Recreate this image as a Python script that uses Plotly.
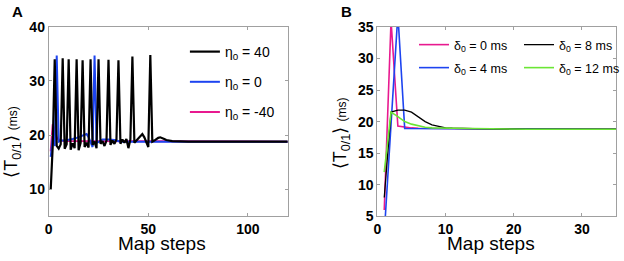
import plotly.graph_objects as go

W, H = 624, 261
def px(x): return x / W
def py(y): return 1 - y / H

# ---------------- Panel A data ----------------
a_black_x = [1, 2, 3, 4, 5, 6, 7, 8, 9, 10, 11, 12, 13, 14, 15, 16, 17, 18, 19, 20,
             21, 22, 23, 24, 25, 26, 27, 28, 29, 30, 31, 32, 33, 34, 35, 36, 37, 38, 39, 40,
             41, 42, 43, 44, 45, 46, 47, 48, 49, 50, 51, 52, 53, 54, 55, 56, 57, 58, 59, 60,
             61, 62, 66, 70, 120]
a_black_y = [10, 18, 34, 18, 17.5, 18.3, 34.2, 17.5, 18.3, 34, 17.3, 18.5, 17.6, 34, 17.2, 18.6, 33.8, 17.8, 18.6, 17.7,
             34, 18.2, 18.8, 17.6, 34, 18.4, 18.9, 18.0, 19.0, 33.9, 18.2, 19.0, 18.4, 19.2, 33.8, 18.4, 19.2, 18.6, 19.3, 17.6,
             19.2, 34.5, 18.6, 19.0, 19.5, 20.0, 20.2, 19.6, 18.5, 17.8, 34.8, 18.8, 19.0, 19.3, 19.5, 19.6, 19.5, 19.3, 19.1, 19.0,
             18.95, 18.9, 18.85, 18.8, 18.8]

a_blue_x = [1, 2, 3, 4, 5, 6, 8, 10, 12, 14, 16, 18, 19, 20, 21, 22, 23, 24, 25, 27, 30, 33, 36, 120]
a_blue_y = [16, 19.5, 18, 34.7, 18.8, 19.0, 19.0, 19.1, 19.3, 19.5, 19.8, 20.1, 20.2, 19.6, 18.5, 17.8, 34.7, 18.6, 18.7, 19.2, 19.2, 19.1, 18.8, 18.8]

a_mag_x = [1, 2, 3, 4, 5, 6, 8, 10, 15, 20, 120]
a_mag_y = [17, 22, 21, 19.5, 19.2, 19.0, 18.9, 18.9, 18.85, 18.8, 18.8]

a_names = ["η<sub>0</sub> = 40", "η<sub>0</sub> = 0", "η<sub>0</sub> = -40"]
a_xticks = [0, 50, 100]
a_yticks = [10, 20, 30, 40]

# ---------------- Panel B data ----------------
b_mag_x = [1, 2, 3, 4, 5, 6, 8, 10, 22, 35]
b_mag_y = [6, 36, 19.3, 19.1, 19.0, 18.95, 18.9, 18.9, 18.8, 18.8]

b_blue_x = [1, 2, 3, 4, 5, 8, 10, 22, 35]
b_blue_y = [2.2, 19.6, 37, 18.9, 18.9, 18.9, 18.9, 18.8, 18.8]

b_black_x = [1, 2, 3, 4, 5, 6, 7, 8, 9, 10, 11, 12, 14, 22, 35]
b_black_y = [8, 21.5, 21.8, 21.8, 21.5, 20.8, 20.0, 19.5, 19.2, 19.0, 18.95, 18.9, 18.9, 18.8, 18.8]

b_green_x = [1, 2, 3, 4, 5, 6, 7, 8, 10, 14, 22, 35]
b_green_y = [12, 21.5, 20.8, 20.0, 19.6, 19.3, 19.1, 19.0, 18.95, 18.9, 18.8, 18.8]

b_names = ["δ<sub>0</sub> = 0 ms", "δ<sub>0</sub> = 4 ms", "δ<sub>0</sub> = 8 ms", "δ<sub>0</sub> = 12 ms"]
b_xticks = [0, 10, 20, 30]
b_yticks = [5, 10, 15, 20, 25, 30, 35]

MAG = "#e8198f"
BLUE = "#1d44f0"
GREEN = "#6be635"
BLACK = "#000000"
FONT = "Liberation Sans, Arial, Helvetica, sans-serif"

fig = go.Figure()

# Panel A traces (draw order: magenta, blue, black on top)
fig.add_trace(go.Scatter(x=a_mag_x, y=a_mag_y, mode="lines", name=a_names[2],
                         line=dict(color=MAG, width=2), xaxis="x", yaxis="y",
                         legend="legend3", legendgroup="a3", legendrank=3))
fig.add_trace(go.Scatter(x=a_blue_x, y=a_blue_y, mode="lines", name=a_names[1],
                         line=dict(color=BLUE, width=2), xaxis="x", yaxis="y",
                         legend="legend3", legendgroup="a2", legendrank=2))
fig.add_trace(go.Scatter(x=a_black_x, y=a_black_y, mode="lines", name=a_names[0],
                         line=dict(color=BLACK, width=2.2), xaxis="x", yaxis="y",
                         legend="legend3", legendgroup="a1", legendrank=1))

# Panel B traces
fig.add_trace(go.Scatter(x=b_mag_x, y=b_mag_y, mode="lines", name=b_names[0],
                         line=dict(color=MAG, width=1.6), xaxis="x2", yaxis="y2",
                         legend="legend", legendrank=1))
fig.add_trace(go.Scatter(x=b_blue_x, y=b_blue_y, mode="lines", name=b_names[1],
                         line=dict(color=BLUE, width=1.6), xaxis="x2", yaxis="y2",
                         legend="legend2", legendrank=1))
fig.add_trace(go.Scatter(x=b_black_x, y=b_black_y, mode="lines", name=b_names[2],
                         line=dict(color=BLACK, width=1.3), xaxis="x2", yaxis="y2",
                         legend="legend", legendrank=2))
fig.add_trace(go.Scatter(x=b_green_x, y=b_green_y, mode="lines", name=b_names[3],
                         line=dict(color=GREEN, width=1.6), xaxis="x2", yaxis="y2",
                         legend="legend2", legendrank=2))

axcommon = dict(showline=True, linecolor="#a0a0a0", linewidth=1, mirror="ticks",
                ticks="inside", ticklen=3, tickcolor="#a0a0a0", showgrid=False,
                zeroline=False, automargin=False,
                tickfont=dict(family=FONT, size=14, color="black", weight="bold"))

ydom = [py(216.4), py(26.8)]
fig.update_layout(
    width=W, height=H,
    margin=dict(l=0, r=0, t=0, b=0),
    paper_bgcolor="white", plot_bgcolor="white",
    font=dict(family=FONT, color="black"),
    template="none",
    xaxis=dict(domain=[px(49.3), px(291)], range=[0, 120], tickvals=a_xticks,
               anchor="y", **axcommon),
    yaxis=dict(domain=ydom, range=[5, 40], tickvals=a_yticks, anchor="x", **axcommon),
    xaxis2=dict(domain=[px(381.7), px(623)], range=[0, 35], tickvals=b_xticks,
                anchor="y2", **axcommon),
    yaxis2=dict(domain=ydom, range=[5, 35], tickvals=b_yticks, anchor="x2", **axcommon),
    legend3=dict(x=px(187), y=py(36), xanchor="left", yanchor="top",
                 font=dict(size=14, family=FONT), tracegroupgap=9,
                 bgcolor="rgba(0,0,0,0)", borderwidth=0),
    legend=dict(orientation="h", x=px(419), y=py(30), xanchor="left", yanchor="top",
                font=dict(size=12.5, family=FONT), entrywidth=60, entrywidthmode="pixels",
                bgcolor="rgba(0,0,0,0)", borderwidth=0),
    legend2=dict(orientation="h", x=px(419), y=py(53), xanchor="left", yanchor="top",
                 font=dict(size=12.5, family=FONT), entrywidth=60, entrywidthmode="pixels",
                 bgcolor="rgba(0,0,0,0)", borderwidth=0),
    showlegend=True,
)

ytitle = "⟨T<sub>0/1</sub>⟩ <span style='font-size:12px'>(ms)</span>"
ann = [
    dict(text="<b>A</b>", x=px(18), y=py(11), font=dict(size=15)),
    dict(text="<b>B</b>", x=px(350), y=py(11), font=dict(size=15)),
    dict(text="Map steps", x=px(164), y=py(243), font=dict(size=19)),
    dict(text="Map steps", x=px(497), y=py(243), font=dict(size=19)),
    dict(text=ytitle, x=px(12), y=py(142), font=dict(size=18), textangle=-90),
    dict(text=ytitle, x=px(345), y=py(133), font=dict(size=18), textangle=-90),
]
for a in ann:
    fig.add_annotation(xref="paper", yref="paper", showarrow=False,
                       xanchor="center", yanchor="middle", **a)

fig.write_html("out.html", config={"displayModeBar": False},
               post_script="document.body.style.margin='0px';")
